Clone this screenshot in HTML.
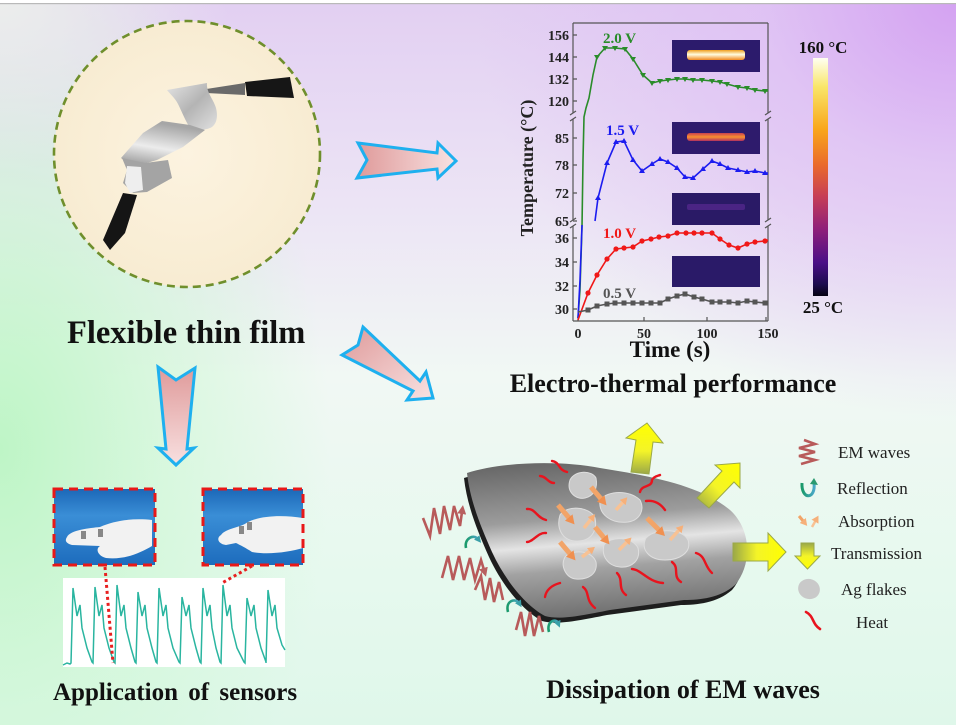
<!DOCTYPE html>
<html><head><meta charset="utf-8"><style>
html,body{margin:0;padding:0;}
body{width:956px;height:725px;overflow:hidden;}
#bg{position:absolute;left:0;top:0;width:956px;height:725px;
background:
radial-gradient(ellipse 230px 170px at 0px 0px, rgba(236,238,236,1) 0%, rgba(236,238,236,0) 100%),
radial-gradient(ellipse 480px 420px at 956px 0px, rgba(212,162,242,1) 0%, rgba(222,190,244,0.75) 40%, rgba(232,215,246,0) 100%),
radial-gradient(ellipse 330px 520px at 0px 450px, rgba(190,245,198,1) 0%, rgba(205,247,212,0.65) 50%, rgba(222,250,228,0) 100%),
linear-gradient(180deg, #e2cff2 0%, #ece4f5 28%, #f1f8f4 52%, #e6f9ee 80%, #dff7ea 100%);}
svg{position:absolute;left:0;top:0;}
</style></head><body>
<div id="bg"></div>
<svg width="956" height="725" viewBox="0 0 956 725" xmlns="http://www.w3.org/2000/svg" font-family="'Liberation Serif', serif">
<defs>
<linearGradient id="pinkH" x1="0" y1="0" x2="1" y2="0"><stop offset="0" stop-color="#df9a9a"/><stop offset="1" stop-color="#f8e2e2"/></linearGradient>
<linearGradient id="pinkV" x1="0" y1="0" x2="0" y2="1"><stop offset="0" stop-color="#df9a9a"/><stop offset="1" stop-color="#f8e0e0"/></linearGradient>
<linearGradient id="pinkD" x1="0" y1="0" x2="1" y2="1"><stop offset="0" stop-color="#df9a9a"/><stop offset="1" stop-color="#f8e2e2"/></linearGradient>
<linearGradient id="silver" x1="0" y1="0" x2="1" y2="1"><stop offset="0" stop-color="#e4e4e4"/><stop offset="0.5" stop-color="#b4b4b4"/><stop offset="1" stop-color="#e0e0e0"/></linearGradient>
<linearGradient id="silver2" x1="0" y1="1" x2="0.3" y2="0"><stop offset="0" stop-color="#8a8a8a"/><stop offset="0.5" stop-color="#ececec"/><stop offset="1" stop-color="#a6a6a6"/></linearGradient>
<linearGradient id="cbar" x1="0" y1="0" x2="0" y2="1">
<stop offset="0" stop-color="#fffff2"/><stop offset="0.12" stop-color="#f9e66a"/><stop offset="0.3" stop-color="#f9a61a"/><stop offset="0.45" stop-color="#ea6a2c"/><stop offset="0.58" stop-color="#c73e56"/><stop offset="0.72" stop-color="#8e1f7a"/><stop offset="0.86" stop-color="#4a0f86"/><stop offset="0.95" stop-color="#1c0c4e"/><stop offset="1" stop-color="#050212"/></linearGradient>
<linearGradient id="hot1" x1="0" y1="0" x2="0" y2="1"><stop offset="0" stop-color="#f0a020"/><stop offset="0.45" stop-color="#fffce0"/><stop offset="1" stop-color="#f08a20"/></linearGradient>
<linearGradient id="hot2" x1="0" y1="0" x2="0" y2="1"><stop offset="0" stop-color="#c84050"/><stop offset="0.5" stop-color="#f89030"/><stop offset="1" stop-color="#b03060"/></linearGradient>
<linearGradient id="sheet" x1="0.35" y1="0" x2="0.5" y2="1"><stop offset="0" stop-color="#6a6a6a"/><stop offset="0.35" stop-color="#9c9c9c"/><stop offset="0.52" stop-color="#e4e4e4"/><stop offset="0.68" stop-color="#a2a2a2"/><stop offset="1" stop-color="#6c6c6c"/></linearGradient>
<linearGradient id="yel1" x1="0" y1="1" x2="0" y2="0"><stop offset="0" stop-color="#9aa848"/><stop offset="0.45" stop-color="#f4f428"/><stop offset="1" stop-color="#ffff00"/></linearGradient>
<linearGradient id="yelR" x1="0" y1="0" x2="1" y2="0"><stop offset="0" stop-color="#9aa848"/><stop offset="0.45" stop-color="#f4f428"/><stop offset="1" stop-color="#ffff00"/></linearGradient>
<linearGradient id="yelD" x1="0" y1="1" x2="1" y2="0"><stop offset="0" stop-color="#9aa848"/><stop offset="0.45" stop-color="#f4f428"/><stop offset="1" stop-color="#ffff00"/></linearGradient>
<linearGradient id="yelDown" x1="0" y1="0" x2="0" y2="1"><stop offset="0" stop-color="#9aa848"/><stop offset="0.5" stop-color="#f4f428"/><stop offset="1" stop-color="#ffff00"/></linearGradient>
<linearGradient id="teal" x1="0" y1="0" x2="1" y2="0"><stop offset="0" stop-color="#1a9a6a"/><stop offset="1" stop-color="#4aa8c8"/></linearGradient>
<linearGradient id="photo" x1="0" y1="0" x2="0" y2="1"><stop offset="0" stop-color="#1c68b8"/><stop offset="0.35" stop-color="#3a8ed6"/><stop offset="1" stop-color="#1d6cbd"/></linearGradient>
<radialGradient id="beige" cx="0.5" cy="0.5" r="0.5"><stop offset="0" stop-color="#fcf3e0"/><stop offset="1" stop-color="#f8ecd2"/></radialGradient>
<marker id="ah" markerUnits="userSpaceOnUse" markerWidth="10" markerHeight="10" refX="2" refY="5" orient="auto"><path d="M0,0 L9,5 L0,10 Z" fill="#f09050"/></marker>
<marker id="ah2" markerUnits="userSpaceOnUse" markerWidth="8" markerHeight="8" refX="2" refY="4" orient="auto"><path d="M0,0 L7,4 L0,8 Z" fill="#f6b07a"/></marker>
<marker id="ahw" markerUnits="userSpaceOnUse" markerWidth="9" markerHeight="9" refX="2" refY="4.5" orient="auto"><path d="M0,0 L9,4.5 L0,9 Z" fill="#b86060"/></marker>
<marker id="aht" markerUnits="userSpaceOnUse" markerWidth="7" markerHeight="7" refX="2" refY="3.5" orient="auto"><path d="M0,0 L7,3.5 L0,7 Z" fill="#3aa0a8"/></marker>
</defs>

<!-- top strip -->
<rect x="0" y="0" width="956" height="3" fill="#ffffff"/>
<rect x="0" y="3" width="956" height="1.2" fill="#b9b9b9"/>

<!-- circle -->
<circle cx="187" cy="154" r="133" fill="url(#beige)" stroke="#6f8f2c" stroke-width="2.6" stroke-dasharray="8,5"/>
<!-- film -->
<polygon points="187,92 245,83 245,95" fill="#6a6a6a"/>
<polygon points="245,82 290,77 294,98 247,96" fill="#161616"/>
<path d="M167,90 L207,83 C206,92 214,100 216,108 C218,116 217,123 212,127 C205,131 196,130 190,128 C185,120 182,112 178,104 C175,98 170,94 167,90 Z" fill="url(#silver)"/>
<polygon points="143,133 162,121 190,125 205,130 183,147 157,160 133,167 121,158" fill="url(#silver2)"/>
<polygon points="122,158 145,163 168,160 172,178 147,192 133,193 123,183 127,170" fill="#a4a4a4"/>
<polygon points="127,166 141,167 143,190 130,193 125,183" fill="#eeeeee"/>
<polygon points="123,193 137,195 125,233 110,250 103,240" fill="#151515"/>

<text x="67" y="343" font-size="32.5" font-weight="bold" fill="#111">Flexible thin film</text>

<!-- pink arrows -->
<polygon points="358,143 437,153 438,143 456,161 438,178 437,169 357,178 367,160" fill="url(#pinkH)" stroke="#1eb0ef" stroke-width="3" stroke-linejoin="miter"/>
<polygon points="363,327 420,381 426,372 433,398 407,400 413,391 342,355 358,345" fill="url(#pinkD)" stroke="#1eb0ef" stroke-width="3"/>
<polygon points="158,367 176,380 195,368 187,449 194,448 176,465 158,448 166,449" fill="url(#pinkV)" stroke="#1eb0ef" stroke-width="3"/>

<!-- chart -->
<g font-weight="bold" fill="#222" font-size="14">
<text x="569" y="40" text-anchor="end">156</text>
<text x="569" y="62" text-anchor="end">144</text>
<text x="569" y="84" text-anchor="end">132</text>
<text x="569" y="106" text-anchor="end">120</text>
<text x="569" y="143" text-anchor="end">85</text>
<text x="569" y="170" text-anchor="end">78</text>
<text x="569" y="198" text-anchor="end">72</text>
<text x="569" y="226" text-anchor="end">65</text>
<text x="569" y="243" text-anchor="end">36</text>
<text x="569" y="267" text-anchor="end">34</text>
<text x="569" y="291" text-anchor="end">32</text>
<text x="569" y="314" text-anchor="end">30</text>
<text x="578" y="338" text-anchor="middle">0</text>
<text x="644" y="338" text-anchor="middle">50</text>
<text x="707" y="338" text-anchor="middle">100</text>
<text x="768" y="338" text-anchor="middle">150</text>
</g>
<text x="670" y="357" text-anchor="middle" font-size="23" font-weight="bold" fill="#111">Time (s)</text>
<text transform="translate(533,168) rotate(-90)" text-anchor="middle" font-size="18" font-weight="bold" fill="#222">Temperature (°C)</text>
<g stroke="#555" stroke-width="1.2" fill="none">
<line x1="573" y1="23" x2="768" y2="23"/>
<line x1="573" y1="321" x2="768" y2="321"/>
<line x1="573" y1="23" x2="573" y2="113"/><line x1="573" y1="119" x2="573" y2="220"/><line x1="573" y1="226" x2="573" y2="321"/>
<line x1="768" y1="23" x2="768" y2="113"/><line x1="768" y1="119" x2="768" y2="220"/><line x1="768" y1="226" x2="768" y2="321"/>
<line x1="570" y1="115" x2="576" y2="111"/><line x1="570" y1="121" x2="576" y2="117"/>
<line x1="570" y1="222" x2="576" y2="218"/><line x1="570" y1="228" x2="576" y2="224"/>
<line x1="765" y1="115" x2="771" y2="111"/><line x1="765" y1="121" x2="771" y2="117"/>
<line x1="765" y1="222" x2="771" y2="218"/><line x1="765" y1="228" x2="771" y2="224"/>
<path d="M573,35h4M573,57h4M573,79h4M573,101h4M573,138h4M573,165h4M573,193h4M573,221h4M573,238h4M573,262h4M573,286h4M573,309h4M578,321v-4M644,321v-4M707,321v-4M766,321v-4"/>
</g>
<!-- thermal images -->
<rect x="672" y="40" width="88" height="32" fill="#2c1b6c"/>
<rect x="687" y="50" width="58" height="10" rx="3" fill="url(#hot1)"/>
<rect x="672" y="122" width="88" height="32" fill="#2e1b6c"/>
<rect x="687" y="133" width="58" height="8" rx="3" fill="url(#hot2)"/>
<rect x="672" y="193" width="88" height="32" fill="#2a1a66"/>
<rect x="687" y="204" width="58" height="6" rx="2" fill="#4a2484"/>
<rect x="672" y="256" width="88" height="31" fill="#2a1a68"/>
<!-- colorbar -->
<rect x="813" y="58" width="15" height="238" fill="url(#cbar)"/>
<text x="823" y="53" text-anchor="middle" font-size="17" font-weight="bold" fill="#111">160 °C</text>
<text x="823" y="313" text-anchor="middle" font-size="17" font-weight="bold" fill="#111">25 °C</text>
<!-- curves -->
<g fill="none" stroke-width="1.6">
<polyline stroke="#2a8c2a" points="578,318 580,290 582,227 583,160 584,117 586,108 589,98 593,75 597,57 605,48 615,48 625,49 633,59 643,75 652,83 660,81 668,80 677,79 685,79 693,80 702,80 712,81 720,82 727,84 738,87 747,88 755,90 765,91 768,91"/>
<polyline stroke="#1c1cf0" points="578,318 580,280 582,225"/>
<polyline stroke="#1c1cf0" points="595,221 598,198 607,163 616,142 624,141 633,160 642,171 652,164 660,159 668,162 677,168 685,177 693,178 703,169 712,161 720,164 728,168 738,170 747,172 755,171 765,173 768,173"/>
<polyline stroke="#f01818" points="578,320 588,293 597,275 607,259 616,249 624,248 633,247 642,241 651,239 659,237 668,236 677,233 686,233 694,233 702,233 712,233 720,239 729,245 738,248 747,244 755,242 765,241 768,240"/>
<polyline stroke="#555" points="578,312 588,310 597,306 607,304 615,303 624,303 633,303 642,303 651,303 660,303 668,299 677,296 685,294 694,297 702,299 712,302 720,302 729,302 738,303 747,301 755,302 765,303 768,303"/>
</g>
<g fill="#2a8c2a">
<path d="M594,55h6l-3,5z M602,46h6l-3,5z M612,46h6l-3,5z M622,47h6l-3,5z M630,57h6l-3,5z M640,73h6l-3,5z M649,81h6l-3,5z M657,79h6l-3,5z M665,78h6l-3,5z M674,77h6l-3,5z M682,77h6l-3,5z M690,78h6l-3,5z M699,78h6l-3,5z M709,79h6l-3,5z M717,80h6l-3,5z M724,82h6l-3,5z M735,85h6l-3,5z M744,86h6l-3,5z M752,88h6l-3,5z M762,89h6l-3,5z"/>
</g>
<g fill="#1c1cf0">
<path d="M595,200h6l-3,-5z M604,165h6l-3,-5z M613,144h6l-3,-5z M621,143h6l-3,-5z M630,162h6l-3,-5z M639,173h6l-3,-5z M649,166h6l-3,-5z M657,161h6l-3,-5z M665,164h6l-3,-5z M674,170h6l-3,-5z M682,179h6l-3,-5z M690,180h6l-3,-5z M700,171h6l-3,-5z M709,163h6l-3,-5z M717,166h6l-3,-5z M725,170h6l-3,-5z M735,172h6l-3,-5z M744,174h6l-3,-5z M752,173h6l-3,-5z M762,175h6l-3,-5z"/>
</g>
<g fill="#f01818">
<circle cx="588" cy="293" r="2.6"/><circle cx="597" cy="275" r="2.6"/><circle cx="607" cy="259" r="2.6"/><circle cx="616" cy="249" r="2.6"/><circle cx="624" cy="248" r="2.6"/><circle cx="633" cy="247" r="2.6"/><circle cx="642" cy="241" r="2.6"/><circle cx="651" cy="239" r="2.6"/><circle cx="659" cy="237" r="2.6"/><circle cx="668" cy="236" r="2.6"/><circle cx="677" cy="233" r="2.6"/><circle cx="686" cy="233" r="2.6"/><circle cx="694" cy="233" r="2.6"/><circle cx="702" cy="233" r="2.6"/><circle cx="712" cy="233" r="2.6"/><circle cx="720" cy="239" r="2.6"/><circle cx="729" cy="245" r="2.6"/><circle cx="738" cy="248" r="2.6"/><circle cx="747" cy="244" r="2.6"/><circle cx="755" cy="242" r="2.6"/><circle cx="765" cy="241" r="2.6"/>
</g>
<g fill="#555">
<rect x="585.5" y="307.5" width="5" height="5"/><rect x="594.5" y="303.5" width="5" height="5"/><rect x="604.5" y="301.5" width="5" height="5"/><rect x="612.5" y="300.5" width="5" height="5"/><rect x="621.5" y="300.5" width="5" height="5"/><rect x="630.5" y="300.5" width="5" height="5"/><rect x="639.5" y="300.5" width="5" height="5"/><rect x="648.5" y="300.5" width="5" height="5"/><rect x="657.5" y="300.5" width="5" height="5"/><rect x="665.5" y="296.5" width="5" height="5"/><rect x="674.5" y="293.5" width="5" height="5"/><rect x="682.5" y="291.5" width="5" height="5"/><rect x="691.5" y="294.5" width="5" height="5"/><rect x="699.5" y="296.5" width="5" height="5"/><rect x="709.5" y="299.5" width="5" height="5"/><rect x="717.5" y="299.5" width="5" height="5"/><rect x="726.5" y="299.5" width="5" height="5"/><rect x="735.5" y="300.5" width="5" height="5"/><rect x="744.5" y="298.5" width="5" height="5"/><rect x="752.5" y="299.5" width="5" height="5"/><rect x="762.5" y="300.5" width="5" height="5"/>
</g>
<g font-size="15" font-weight="bold">
<text x="603" y="43" fill="#2a8c2a">2.0 V</text>
<text x="606" y="135" fill="#1c1cf0">1.5 V</text>
<text x="603" y="238" fill="#f01818">1.0 V</text>
<text x="603" y="298" fill="#555">0.5 V</text>
</g>
<text x="673" y="392" text-anchor="middle" font-size="26" font-weight="bold" fill="#111">Electro-thermal performance</text>

<!-- EM section: sheet -->
<path d="M464,478 C497,467 557,465 597,473 C647,481 697,490 727,515 C749,535 749,570 732,590 C717,603 697,605 681,605 L607,615 C577,621 557,625 542,621 C522,610 502,585 489,557 C477,530 467,505 464,478 Z" fill="#1e1e1e"/>
<path d="M467,473 C500,462 560,460 600,468 C650,476 700,485 730,510 C752,530 752,565 735,585 C720,598 700,600 684,600 L610,610 C580,616 560,620 545,616 C525,605 505,580 492,552 C480,525 470,500 467,473 Z" fill="url(#sheet)"/>
<!-- flakes -->
<g fill="#c9c9c9" stroke="#dedede" stroke-width="1">
<path d="M570,480 C575,470 592,470 596,478 C598,488 594,496 585,498 C576,500 566,492 570,480 Z"/>
<path d="M600,500 C608,490 630,490 640,500 C645,510 640,520 628,522 C612,524 598,515 600,500 Z"/>
<path d="M560,515 C566,505 590,506 595,518 C598,532 590,542 575,541 C562,540 556,528 560,515 Z"/>
<path d="M565,557 C572,549 592,550 596,562 C598,574 588,580 576,579 C566,578 560,566 565,557 Z"/>
<path d="M604,545 C610,536 632,536 638,548 C641,560 632,568 620,567 C608,566 601,556 604,545 Z"/>
<path d="M646,538 C655,528 682,528 688,540 C692,552 680,560 665,560 C650,560 640,550 646,538 Z"/>
</g>
<!-- orange arrows -->
<g stroke="#f2a468" stroke-width="5" fill="none">
<line x1="558" y1="505" x2="570" y2="519" marker-end="url(#ah)"/>
<line x1="591" y1="487" x2="602" y2="500" marker-end="url(#ah)"/>
<line x1="595" y1="527" x2="605" y2="539" marker-end="url(#ah)"/>
<line x1="560" y1="542" x2="571" y2="555" marker-end="url(#ah)"/>
<line x1="647" y1="518" x2="660" y2="531" marker-end="url(#ah)"/>
</g>
<g stroke="#f8c294" stroke-width="3.5" fill="none">
<line x1="584" y1="528" x2="592" y2="518" marker-end="url(#ah2)"/>
<line x1="616" y1="510" x2="624" y2="501" marker-end="url(#ah2)"/>
<line x1="582" y1="557" x2="591" y2="550" marker-end="url(#ah2)"/>
<line x1="619" y1="550" x2="628" y2="541" marker-end="url(#ah2)"/>
<line x1="670" y1="540" x2="680" y2="529" marker-end="url(#ah2)"/>
</g>
<!-- heat squiggles -->
<g stroke="#e8141e" stroke-width="2.4" fill="none" stroke-linecap="round">
<path d="M552,461 C560,462 558,470 567,472"/>
<path d="M540,476 C546,476 548,483 554,483"/>
<path d="M640,492 C642,484 652,488 652,480 C654,476 658,476 660,475"/>
<path d="M646,501 C654,500 660,503 665,510"/>
<path d="M527,509 C535,508 537,518 546,520"/>
<path d="M527,542 C533,542 538,532 546,533"/>
<path d="M545,597 C546,590 552,585 560,583"/>
<path d="M583,587 C590,592 585,600 595,608"/>
<path d="M617,573 C624,580 617,588 626,595"/>
<path d="M632,569 C642,570 648,582 663,583"/>
<path d="M672,562 C680,568 672,576 681,582"/>
<path d="M696,553 C706,556 704,566 712,573"/>
</g>
<!-- yellow arrows -->
<polygon points="631,472 636,440 626,438 647,423 663,443 653,442 649,474" fill="url(#yel1)" stroke="#9aa848" stroke-width="1"/>
<polygon points="697,498 722,471 715,465 740,463 740,488 734,482 709,508" fill="url(#yelD)" stroke="#9aa848" stroke-width="1"/>
<polygon points="733,543 768,543 768,533 786,552 768,571 768,561 733,561" fill="url(#yelR)" stroke="#9aa848" stroke-width="1"/>
<!-- incoming EM waves -->
<g stroke="#b85a5a" stroke-width="2.6" fill="none" stroke-linejoin="miter">
<polyline points="423,518 430,536 434,508 440,534 444,506 450,530 454,506 460,526 462,512" marker-end="url(#ahw)"/>
<polyline points="442,578 448,556 453,580 459,556 464,580 470,558 475,580 481,560 484,570" marker-end="url(#ahw)"/>
<polyline points="475,590 481,576 485,600 490,578 494,602 499,582 503,600"/>
<polyline points="516,630 521,612 525,636 530,612 534,636 539,616 543,632"/>
</g>
<g stroke="url(#teal)" stroke-width="2.6" fill="none">
<path d="M466,548 C464,538 474,534 478,539" marker-end="url(#aht)"/>
<path d="M508,612 C505,600 516,598 519,603" marker-end="url(#aht)"/>
<path d="M549,632 C546,621 556,618 558,623" marker-end="url(#aht)"/>
</g>
<!-- legend -->
<polyline points="804,440 815,444 799,448 815,452 799,456 815,460 801,464" stroke="#b85a5a" stroke-width="2.6" fill="none"/>
<path d="M802,483 C801,500 816,500 814,483" stroke="url(#teal)" stroke-width="3" fill="none"/>
<path d="M810,484 L814,478 L818,485 Z" fill="#2a9a70"/>
<line x1="799" y1="516" x2="804" y2="522" stroke="#f2a468" stroke-width="3" marker-end="url(#ah2)"/>
<line x1="812" y1="527" x2="816" y2="520" stroke="#f8c294" stroke-width="2.5" marker-end="url(#ah2)"/>
<polygon points="801,543 814,543 814,556 820,556 807.5,569 795,556 801,556" fill="url(#yelDown)" stroke="#9aa848" stroke-width="1"/>
<ellipse cx="809" cy="589" rx="11" ry="10" fill="#c9c9c9" transform="rotate(20 809 589)"/>
<path d="M806,612 C814,616 812,624 820,629" stroke="#e8141e" stroke-width="2.6" fill="none" stroke-linecap="round"/>
<g font-size="17" fill="#222">
<text x="838" y="458">EM waves</text>
<text x="837" y="494">Reflection</text>
<text x="838" y="527">Absorption</text>
<text x="831" y="559">Transmission</text>
<text x="841" y="595">Ag  flakes</text>
<text x="856" y="628">Heat</text>
</g>
<text x="683" y="698" text-anchor="middle" font-size="26" font-weight="bold" fill="#111">Dissipation of EM waves</text>

<!-- sensors -->
<rect x="54" y="489" width="101" height="76" fill="url(#photo)"/>
<path d="M67,537 C70,530 90,528 100,527 C115,520 135,518 152,520 L152,546 C140,553 125,560 106,558 C98,556 95,549 100,546 L72,545 C65,543 65,540 67,537 Z" fill="#f2f2f2"/>
<rect x="81" y="531" width="5" height="8" fill="#888"/><rect x="98" y="529" width="5" height="8" fill="#888"/>
<rect x="54" y="489" width="101" height="76" fill="none" stroke="#e81818" stroke-width="3" stroke-dasharray="9,6"/>
<rect x="203" y="489" width="100" height="76" fill="url(#photo)"/>
<path d="M221,535 C226,528 240,528 248,522 C262,515 285,515 303,518 L303,548 C290,552 268,555 252,552 C246,548 240,545 236,543 L226,545 C218,544 216,538 221,535 Z" fill="#f2f2f2"/>
<rect x="239" y="526" width="5" height="8" fill="#888"/><rect x="247" y="522" width="5" height="8" fill="#888"/>
<rect x="203" y="489" width="100" height="76" fill="none" stroke="#e81818" stroke-width="3" stroke-dasharray="9,6"/>
<rect x="63" y="578" width="222" height="89" fill="#ffffff"/>
<polyline fill="none" stroke="#2ab5a0" stroke-width="1.5" points="63,665 67,663 70,664 71,663 73,588 77,616 80,605 82,628 87,648 92,662 93,663 95,587 99,616 102,605 104,628 109,648 114,662 115,663 117,585 121,616 124,605 126,628 131,648 135,662 136,663 138,592 142,616 145,605 147,628 152,648 156,662 157,663 159,588 163,616 166,605 168,628 173,648 179,662 180,663 182,597 186,616 189,605 191,628 196,648 200,662 201,663 203,588 207,616 210,605 212,628 216,648 220,662 221,663 223,585 227,616 230,605 232,628 237,648 244,662 245,663 247,598 251,616 254,605 256,628 261,648 266,662 266,663 268,590 272,616 275,605 277,628 282,645 285,650"/>
<g stroke="#e82020" stroke-width="3" stroke-dasharray="3,3" fill="none">
<line x1="105" y1="567" x2="113" y2="663"/>
<line x1="252" y1="566" x2="222" y2="583"/>
</g>
<text x="53" y="700" font-size="25" font-weight="bold" fill="#111" word-spacing="4">Application of sensors</text>
</svg>
</body></html>
